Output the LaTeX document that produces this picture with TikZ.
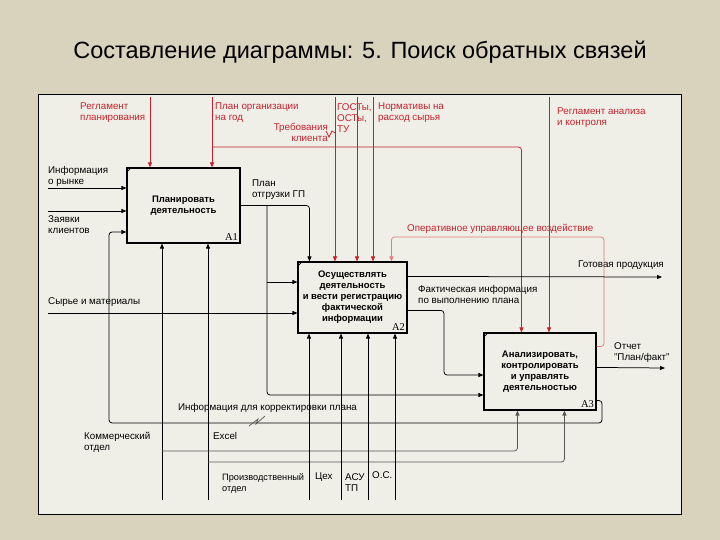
\documentclass[tikz,border=0pt]{standalone}
\usepackage{fontspec}
\setmainfont{Liberation Sans}
\setsansfont{Liberation Sans}
\newfontfamily\serifA{Liberation Serif}
\usetikzlibrary{arrows.meta,calc}

\definecolor{outerbg}{HTML}{D9D2BD}
\definecolor{panelbg}{HTML}{EFEFE8}
\definecolor{idefred}{HTML}{C8202A}
\definecolor{pinkline}{HTML}{E27C7C}
\definecolor{grayline}{HTML}{555555}

\tikzset{
  fn/.style={draw=black, line width=1.1pt, fill=panelbg, font=\bfseries\fontsize{9.5}{11}\selectfont, align=center, inner sep=0pt},
  num/.style={anchor=south east, font=\serifA\fontsize{10.5}{11}\selectfont, inner sep=2.5pt},
  lbl/.style={font=\fontsize{9.8}{11}\selectfont, align=left, inner sep=0pt, anchor=north west},
  rlbl/.style={lbl, text=idefred},
  tipA/.style={-{Triangle[length=5pt,width=4pt]}},
  arr/.style={draw=black, line width=0.75pt, tipA, rounded corners=3pt},
  garr/.style={arr, draw=grayline},
  rarr/.style={arr, draw=idefred},
  parr/.style={arr, draw=pinkline},
  tick/.style={draw=black, line width=0.7pt}
}

\begin{document}
\begin{tikzpicture}[x=1pt,y=-1pt]
\useasboundingbox (0,0) rectangle (720,540);
\fill[outerbg] (0,0) rectangle (720,540);
\draw[fill=panelbg, line width=1pt] (38,95) rectangle (681,514);

\node[font=\fontsize{23.5}{26}\selectfont] (title) at (360,52) {Составление диаграммы: 5. Поиск обратных связей};

% function boxes
\node[fn, minimum width=113pt, minimum height=75pt] (A1) at (183.5,205.5) {Планировать\\деятельность};
\node[fn, minimum width=109pt, minimum height=71pt] (A2) at (352.5,297.5) {Осуществлять\\деятельность\\и вести регистрацию\\фактической\\информации};
\node[fn, minimum width=112pt, minimum height=77pt] (A3) at (540,371.5) {Анализировать,\\контролировать\\и управлять\\деятельностью};
\node[num] at (A1.south east) {A1};
\node[num] at (A2.south east) {A2};
\node[num] at (A3.south east) {A3};
\foreach \b in {A1,A2,A3}{
  \draw[tick] ($(\b.north west)+(0,5)$) -- ++(5,-5);
}

% labels (red controls)
\node[rlbl] (lrp) at (80,103) {Регламент\\планирования};
\node[rlbl] (lpo) at (215,103) {План организации\\на год};
\node[rlbl, align=right, anchor=north east] (ltk) at (328,123) {Требования\\клиента};
\node[rlbl] (lgost) at (337,103) {ГОСТы,\\ОСТы,\\ТУ};
\node[rlbl] (lnorm) at (378,103) {Нормативы на\\расход сырья};
\node[rlbl] (lra) at (557,108) {Регламент анализа\\и контроля};
\node[rlbl] (lop) at (407,224) {Оперативное управляющее воздействие};

% labels (black)
\node[lbl] (lim) at (48,166) {Информация\\о рынке};
\node[lbl] (lzk) at (48,215) {Заявки\\клиентов};
\node[lbl] (lpg) at (252,180) {План\\отгрузки ГП};
\node[lbl] (lsm) at (48,297) {Сырье и материалы};
\node[lbl] (lgp) at (578,261) {Готовая продукция};
\node[lbl] (lfi) at (418,285) {Фактическая информация\\по выполнению плана};
\node[lbl] (lot) at (614,342) {Отчет\\"План/факт"};
\node[lbl] (lik) at (178,403) {Информация для корректировки плана};
\node[lbl] (lko) at (84,432) {Коммерческий\\отдел};
\node[lbl] (lex) at (213,432) {Excel};
\node[lbl, font=\fontsize{9.2}{11}\selectfont] (lpr) at (222,473) {Производственный\\отдел};
\node[lbl] (lcx) at (315,473) {Цех};
\node[lbl] (las) at (345,473) {АСУ\\ТП};
\node[lbl] (los) at (372,471) {О.С.};

% free-end coordinates
\coordinate (crp) at (150,97);
\coordinate (cpo) at (212,97);
\coordinate (cpoB) at (212,147);
\coordinate (ctk) at (335,97);
\coordinate (cgost) at (357,97);
\coordinate (cnorm) at (373,97);
\coordinate (cra) at (549,97);
\coordinate (cim) at (48,188);
\coordinate (czk) at (48,211);
\coordinate (csm) at (48,313);
\coordinate (cgp) at (662,277);
\coordinate (cot) at (665,368);
\coordinate (cko) at (162,500);
\coordinate (cex) at (208,500);
\coordinate (cpr) at (309,500);
\coordinate (ccx) at (341,500);
\coordinate (cas) at (368,500);
\coordinate (cos) at (395,500);

% controls (red)
\draw[rarr] (crp) -- (crp |- A1.north);
\draw[rarr] (cpo) -- (cpo |- A1.north);
\draw[rarr] (cpoB) -| ($(A3.north west)+(38,0)$);
\draw[rarr] (ctk) -- (ctk |- A2.north);
\draw[rarr] (cgost) -- (cgost |- A2.north);
\draw[rarr] (cnorm) -- (cnorm |- A2.north);
\draw[rarr] (cra) -- (cra |- A3.north);
\draw[idefred, line width=0.7pt] (326,131) -- (329,137) -- (332,131) -- (335,133);
% feedback: operational control
\draw[parr] ($(A3.north east)+(0,14)$) -| (604,237) -| ($(A2.north west)+(94,0)$);

% inputs
\draw[arr] (cim) -- (cim -| A1.west);
\draw[arr] (czk) -- (czk -| A1.west);
\draw[arr] (csm) -- (csm -| A2.west);
% A1 output: plan of shipments
\draw[arr] (A1.east) -| ($(A2.north west)+(12,0)$);
\draw[arr] (267,205.5) |- ($(A3.west)+(0,23.5)$);
\draw[arr] (267,282) -- (267,282 -| A2.west);
% A2 outputs
\draw[arr] ($(A2.north east)+(0,15)$) -- (cgp);
\draw[arr] ($(A2.north east)+(0,49)$) -| (444,375) -- (444,375 -| A3.west);
% A3 outputs
\draw[arr] ($(A3.north east)+(0,35)$) -- (cot);
\draw[arr] ($(A3.south east)+(0,-10)$) -| (602,423) -| (109,232) -- (109,232 -| A1.west);
\draw[grayline, line width=0.7pt] (249,426) -- (258,419) -- (256,424) -- (265,416);

% mechanisms
\draw[arr] (cko) -- (cko |- A1.south);
\draw[arr] (cex) -- (cex |- A1.south);
\draw[garr] (162,451) -| ($(A3.south west)+(34,0)$);
\draw[garr] (208,462) -| ($(A3.south west)+(81,0)$);
\draw[arr] (cpr) -- (cpr |- A2.south);
\draw[arr] (ccx) -- (ccx |- A2.south);
\draw[arr] (cas) -- (cas |- A2.south);
\draw[arr] (cos) -- (cos |- A2.south);
\end{tikzpicture}
\end{document}
